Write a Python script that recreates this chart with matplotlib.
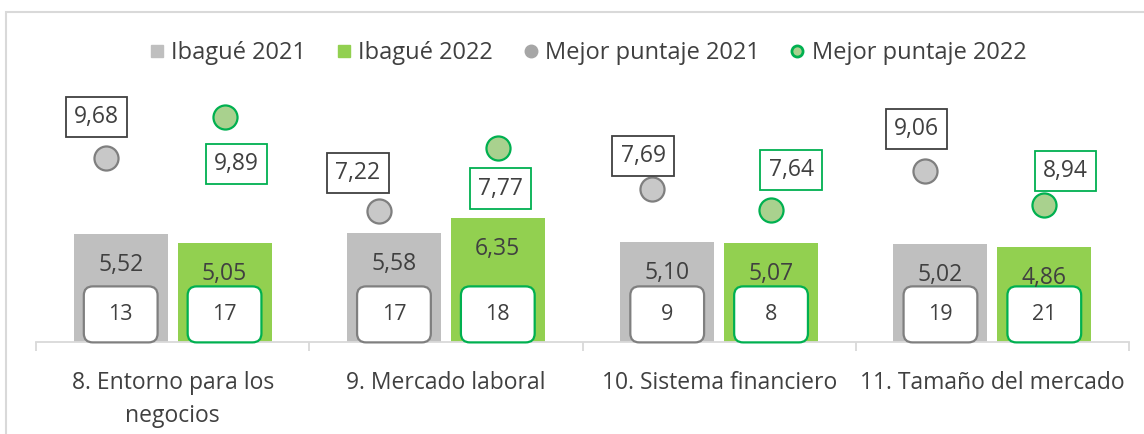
"""
Ibagué 2021 vs 2022: scores by pillar with best scores and ranks.
"""

import numpy as np
from matplotlib import pyplot as plt
from matplotlib.lines import Line2D
from matplotlib.patches import FancyBboxPatch, Rectangle

plt.rcParams["font.family"] = ["Open Sans", "DejaVu Sans"]

CATEGORIES = ["8. Entorno para los\nnegocios", "9. Mercado laboral",
              "10. Sistema financiero", "11. Tamaño del mercado"]
IBAGUE_2021 = [5.52, 5.58, 5.10, 5.02]
IBAGUE_2022 = [5.05, 6.35, 5.07, 4.86]
RANK_2021 = [13, 17, 9, 19]
RANK_2022 = [17, 18, 8, 21]
# best-score markers: drawn height and the printed value
MEJOR_2021_POS = [9.40, 6.68, 7.82, 8.72]
MEJOR_2022_POS = [11.49, 9.93, 6.73, 6.99]
MEJOR_2021 = [9.68, 7.22, 7.69, 9.06]
MEJOR_2022 = [9.89, 7.77, 7.64, 8.94]

GRAY = "#bfbfbf"
GREEN = "#92d050"
DARK_GREEN = "#00b050"
TEXT = "#404040"

# label offsets (pixels) from each best-score marker
OFFS_2021 = [(-9, 41), (-21, 38), (-9, 33), (-9, 42)]
OFFS_2022 = [(12, -47), (3, -41), (20, 40), (21, 34)]

W, H, DPI = 1144, 434, 100
fig = plt.figure(figsize=(W / DPI, H / DPI), dpi=DPI)
fig.patches.append(Rectangle((6 / W, -0.1), 1.2, 1.1 - 12 / H, transform=fig.transFigure,
                             fill=False, edgecolor="#d9d9d9", lw=1.5))

ax_left, ax_right, ax_bottom, ax_top = 36, 1129, 342, 107
ax = fig.add_axes([ax_left / W, (H - ax_bottom) / H,
                   (ax_right - ax_left) / W, (ax_bottom - ax_top) / H])
ymax = 12
ax.set_xlim(-0.5, len(CATEGORIES) - 0.5)
ax.set_ylim(0, ymax)
px_x = (ax_right - ax_left) / len(CATEGORIES)
px_y = (ax_bottom - ax_top) / ymax
aspect = px_x / px_y

x = np.arange(len(CATEGORIES))
bw = 0.344
off = 0.19
ax.bar(x - off, IBAGUE_2021, bw, color=GRAY, zorder=2)
ax.bar(x + off, IBAGUE_2022, bw, color=GREEN, zorder=2)

for xs, vals, ranks, edge in [(x - off, IBAGUE_2021, RANK_2021, "#7f7f7f"),
                              (x + off, IBAGUE_2022, RANK_2022, DARK_GREEN)]:
    for xi, v, r in zip(xs, vals, ranks):
        ax.annotate(f"{v:.2f}".replace(".", ","), (xi, v), xytext=(0, -31),
                    textcoords="offset pixels", ha="center", va="center",
                    fontsize=16.5, color=TEXT, zorder=4)
        bwid, bh = 0.27, 56 / px_y
        box = FancyBboxPatch((xi - bwid / 2, -0.02), bwid, bh,
                             boxstyle=f"round,pad=0,rounding_size={9 / px_x}",
                             mutation_aspect=aspect, facecolor="white",
                             edgecolor=edge, lw=1.6, zorder=3, clip_on=False)
        ax.add_patch(box)
        ax.text(xi, bh / 2 - 0.02, str(r), ha="center", va="center",
                fontsize=15.5, color=TEXT, zorder=4)

gx = x - 0.245
ax.scatter(gx, MEJOR_2021_POS, s=300, color="#c8c8c8", edgecolor="#7f7f7f",
           linewidth=1.6, zorder=5, clip_on=False)
ax.scatter(x + off, MEJOR_2022_POS, s=300, color="#a9d18e", edgecolor=DARK_GREEN,
           linewidth=1.6, zorder=5, clip_on=False)
for xs, pos, vals, offs, edge in [(gx, MEJOR_2021_POS, MEJOR_2021, OFFS_2021, TEXT),
                                  (x + off, MEJOR_2022_POS, MEJOR_2022, OFFS_2022, DARK_GREEN)]:
    for xi, p, v, o in zip(xs, pos, vals, offs):
        ax.annotate(f"{v:.2f}".replace(".", ","), (xi, p), xytext=o,
                    textcoords="offset pixels", ha="center", va="center",
                    fontsize=16.5, color=TEXT, zorder=6, annotation_clip=False,
                    bbox=dict(boxstyle="square,pad=0.36", fc="white", ec=edge, lw=1.3))

for side in ["top", "right", "left"]:
    ax.spines[side].set_visible(False)
ax.spines["bottom"].set_color("#d9d9d9")
ax.spines["bottom"].set_linewidth(1.3)
ax.set_yticks([])
ax.set_xticks(x)
ax.set_xticklabels(CATEGORIES, fontsize=16.5, color=TEXT, linespacing=1.5)
ax.tick_params(axis="x", length=0, pad=21)
ax.set_xticks(np.arange(-0.5, len(CATEGORIES)), minor=True)
ax.tick_params(axis="x", which="minor", length=6.5, color="#d9d9d9", width=1.3)

handles = [
    Line2D([], [], ls="", marker="s", ms=9, color=GRAY),
    Line2D([], [], ls="", marker="s", ms=9, color=GREEN),
    Line2D([], [], ls="", marker="o", ms=9, color="#a6a6a6"),
    Line2D([], [], ls="", marker="o", ms=8, mfc="#a9d18e", mec=DARK_GREEN, mew=2),
]
labels = ["Ibagué 2021", "Ibagué 2022", "Mejor puntaje 2021", "Mejor puntaje 2022"]
fig.legend(handles, labels, loc="center", bbox_to_anchor=(0.514, 1 - 53 / H),
           ncol=4, frameon=False, fontsize=17, handlelength=0.6,
           handletextpad=0.3, columnspacing=1.3, labelcolor=TEXT)

fig.savefig("out.png", dpi=DPI)
